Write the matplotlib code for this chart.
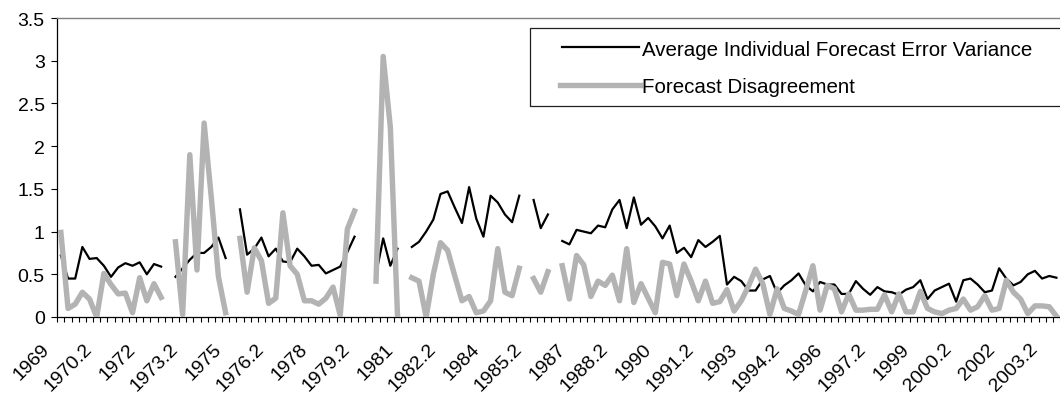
import numpy as np
import matplotlib
matplotlib.use("Agg")
import matplotlib.pyplot as plt
from matplotlib.transforms import blended_transform_factory, ScaledTranslation
from matplotlib.lines import Line2D
from matplotlib.patches import Rectangle

plt.rcParams['font.family'] = ['Liberation Sans', 'DejaVu Sans']

nan = np.nan

# quarterly categories 1969Q1 .. 2003Q4 (labelled 1969, 1969.1, 1969.2, 1969.3, ...)
years = list(range(1969, 2004))
categories = []
for y in years:
    categories += [str(y), f"{y}.1", f"{y}.2", f"{y}.3"]

tick_labels = ["1969", "1970.2", "1972", "1973.2", "1975", "1976.2", "1978", "1979.2",
               "1981", "1982.2", "1984", "1985.2", "1987", "1988.2", "1990", "1991.2",
               "1993", "1994.2", "1996", "1997.2", "1999", "2000.2", "2002", "2003.2"]

avg_error_variance = [
    0.72, 0.45, 0.45, 0.82, 0.68, 0.69, 0.60, 0.47, 0.58, 0.63,
    0.60, 0.64, 0.50, 0.62, 0.59, nan, 0.47, 0.57, 0.67, 0.75,
    0.75, 0.82, 0.93, 0.69, nan, 1.26, 0.73, 0.80, 0.93, 0.71,
    0.80, 0.65, 0.64, 0.80, 0.71, 0.60, 0.61, 0.51, 0.55, 0.59,
    0.76, 0.94, nan, nan, 0.50, 0.92, 0.60, 0.80, nan, 0.82,
    0.88, 1.00, 1.14, 1.44, 1.47, 1.28, 1.10, 1.52, 1.15, 0.94,
    1.42, 1.34, 1.20, 1.11, 1.42, nan, 1.37, 1.04, 1.20, nan,
    0.89, 0.85, 1.02, 1.00, 0.98, 1.07, 1.05, 1.26, 1.37, 1.04,
    1.40, 1.08, 1.16, 1.06, 0.92, 1.07, 0.75, 0.81, 0.70, 0.90,
    0.82, 0.88, 0.95, 0.38, 0.47, 0.42, 0.31, 0.31, 0.44, 0.48,
    0.28, 0.37, 0.43, 0.51, 0.37, 0.30, 0.41, 0.38, 0.38, 0.27,
    0.27, 0.42, 0.33, 0.26, 0.35, 0.30, 0.29, 0.26, 0.32, 0.35,
    0.43, 0.21, 0.31, 0.35, 0.39, 0.18, 0.43, 0.45, 0.38, 0.29,
    0.31, 0.57, 0.45, 0.37, 0.41, 0.50, 0.54, 0.45, 0.48, 0.46,
]

disagreement = [
    0.99, 0.10, 0.15, 0.29, 0.21, 0.00, 0.51, 0.38, 0.27, 0.28,
    0.05, 0.46, 0.19, 0.39, 0.23, nan, 0.88, 0.03, 1.90, 0.55,
    2.27, 1.40, 0.47, 0.05, nan, 0.92, 0.29, 0.81, 0.66, 0.16,
    0.22, 1.22, 0.60, 0.50, 0.19, 0.19, 0.15, 0.22, 0.35, 0.02,
    1.03, 1.24, nan, nan, 0.42, 3.05, 2.22, 0.02, nan, 0.46,
    0.42, 0.00, 0.50, 0.87, 0.78, 0.48, 0.19, 0.24, 0.05, 0.07,
    0.19, 0.80, 0.29, 0.25, 0.57, nan, 0.45, 0.29, 0.53, nan,
    0.60, 0.21, 0.72, 0.61, 0.24, 0.42, 0.37, 0.49, 0.19, 0.80,
    0.17, 0.39, 0.22, 0.05, 0.64, 0.62, 0.25, 0.62, 0.42, 0.19,
    0.42, 0.16, 0.18, 0.32, 0.07, 0.19, 0.36, 0.56, 0.39, 0.03,
    0.33, 0.10, 0.07, 0.03, 0.31, 0.60, 0.08, 0.37, 0.33, 0.06,
    0.27, 0.08, 0.08, 0.09, 0.09, 0.26, 0.06, 0.27, 0.06, 0.06,
    0.30, 0.10, 0.06, 0.04, 0.08, 0.10, 0.21, 0.08, 0.12, 0.25,
    0.08, 0.10, 0.43, 0.29, 0.21, 0.04, 0.13, 0.13, 0.12, 0.01,
]

series_names = ["Average Individual Forecast Error Variance", "Forecast Disagreement"]

W, H = 1060, 402
fig = plt.figure(figsize=(W / 100, H / 100), dpi=100)
fig.patch.set_facecolor("white")

L, R, T, B = 57.3, 1060.0, 19.0, 318.0
ax = fig.add_axes([L / W, (H - B) / H, (R - L) / W, (B - T) / H])

x = np.arange(len(categories))
black_c = "#000000"
gray_c = "#b3b3b3"
ax.plot(x, avg_error_variance, color=black_c, lw=1.6, zorder=3)
ax.plot(x, disagreement, color=gray_c, lw=3.9, zorder=4)

spacing = 7.19
ax.set_xlim(-0.5, -0.5 + (R - L) / spacing)
ax.set_ylim(0, 3.5)

ax.set_yticks(np.arange(0, 3.51, 0.5))
ax.set_yticklabels(["0", "0.5", "1", "1.5", "2", "2.5", "3", "3.5"])
ax.tick_params(axis="y", direction="out", length=4.5, width=0.8, pad=4.5,
               labelsize=14, colors="black")

# category boundary ticks
ax.set_xticks(np.arange(-0.5, len(categories) + 0.5, 1.0))
ax.set_xticklabels([])
ax.tick_params(axis="x", direction="out", length=3.3, width=0.8)

tr = blended_transform_factory(ax.transData, ax.transAxes) + \
    ScaledTranslation(-8 / 100, -23 / 100, fig.dpi_scale_trans)
for k, lab in enumerate(tick_labels):
    ax.text(categories.index(lab), 0, lab, transform=tr, rotation=45,
            ha="right", va="top", fontsize=14, clip_on=False)

for s in ["left", "bottom"]:
    ax.spines[s].set_color("black")
    ax.spines[s].set_linewidth(0.9)
ax.spines["top"].set_color("#808080")
ax.spines["top"].set_linewidth(1.0)
ax.spines["right"].set_visible(False)

# legend (box runs past the right edge of the image)
def fx(px):
    return px / W

def fy(py):
    return 1 - py / H

fig.patches.append(Rectangle((fx(530), fy(107.3)), fx(560), fy(29.3) - fy(107.3),
                             transform=fig.transFigure, fill=False,
                             edgecolor="#202020", lw=0.9))
fig.lines.append(Line2D([fx(561.5), fx(638.5)], [fy(48.3), fy(48.3)],
                        transform=fig.transFigure, color=black_c, lw=1.6))
fig.lines.append(Line2D([fx(560), fx(640)], [fy(85.5), fy(85.5)],
                        transform=fig.transFigure, color=gray_c, lw=3.9))
fig.text(fx(641.5), fy(48.3), series_names[0], ha="left", va="center_baseline", fontsize=14.8)
fig.text(fx(641.5), fy(85.5), series_names[1], ha="left", va="center_baseline", fontsize=14.8)

fig.savefig("out.png", dpi=100, facecolor="white")
